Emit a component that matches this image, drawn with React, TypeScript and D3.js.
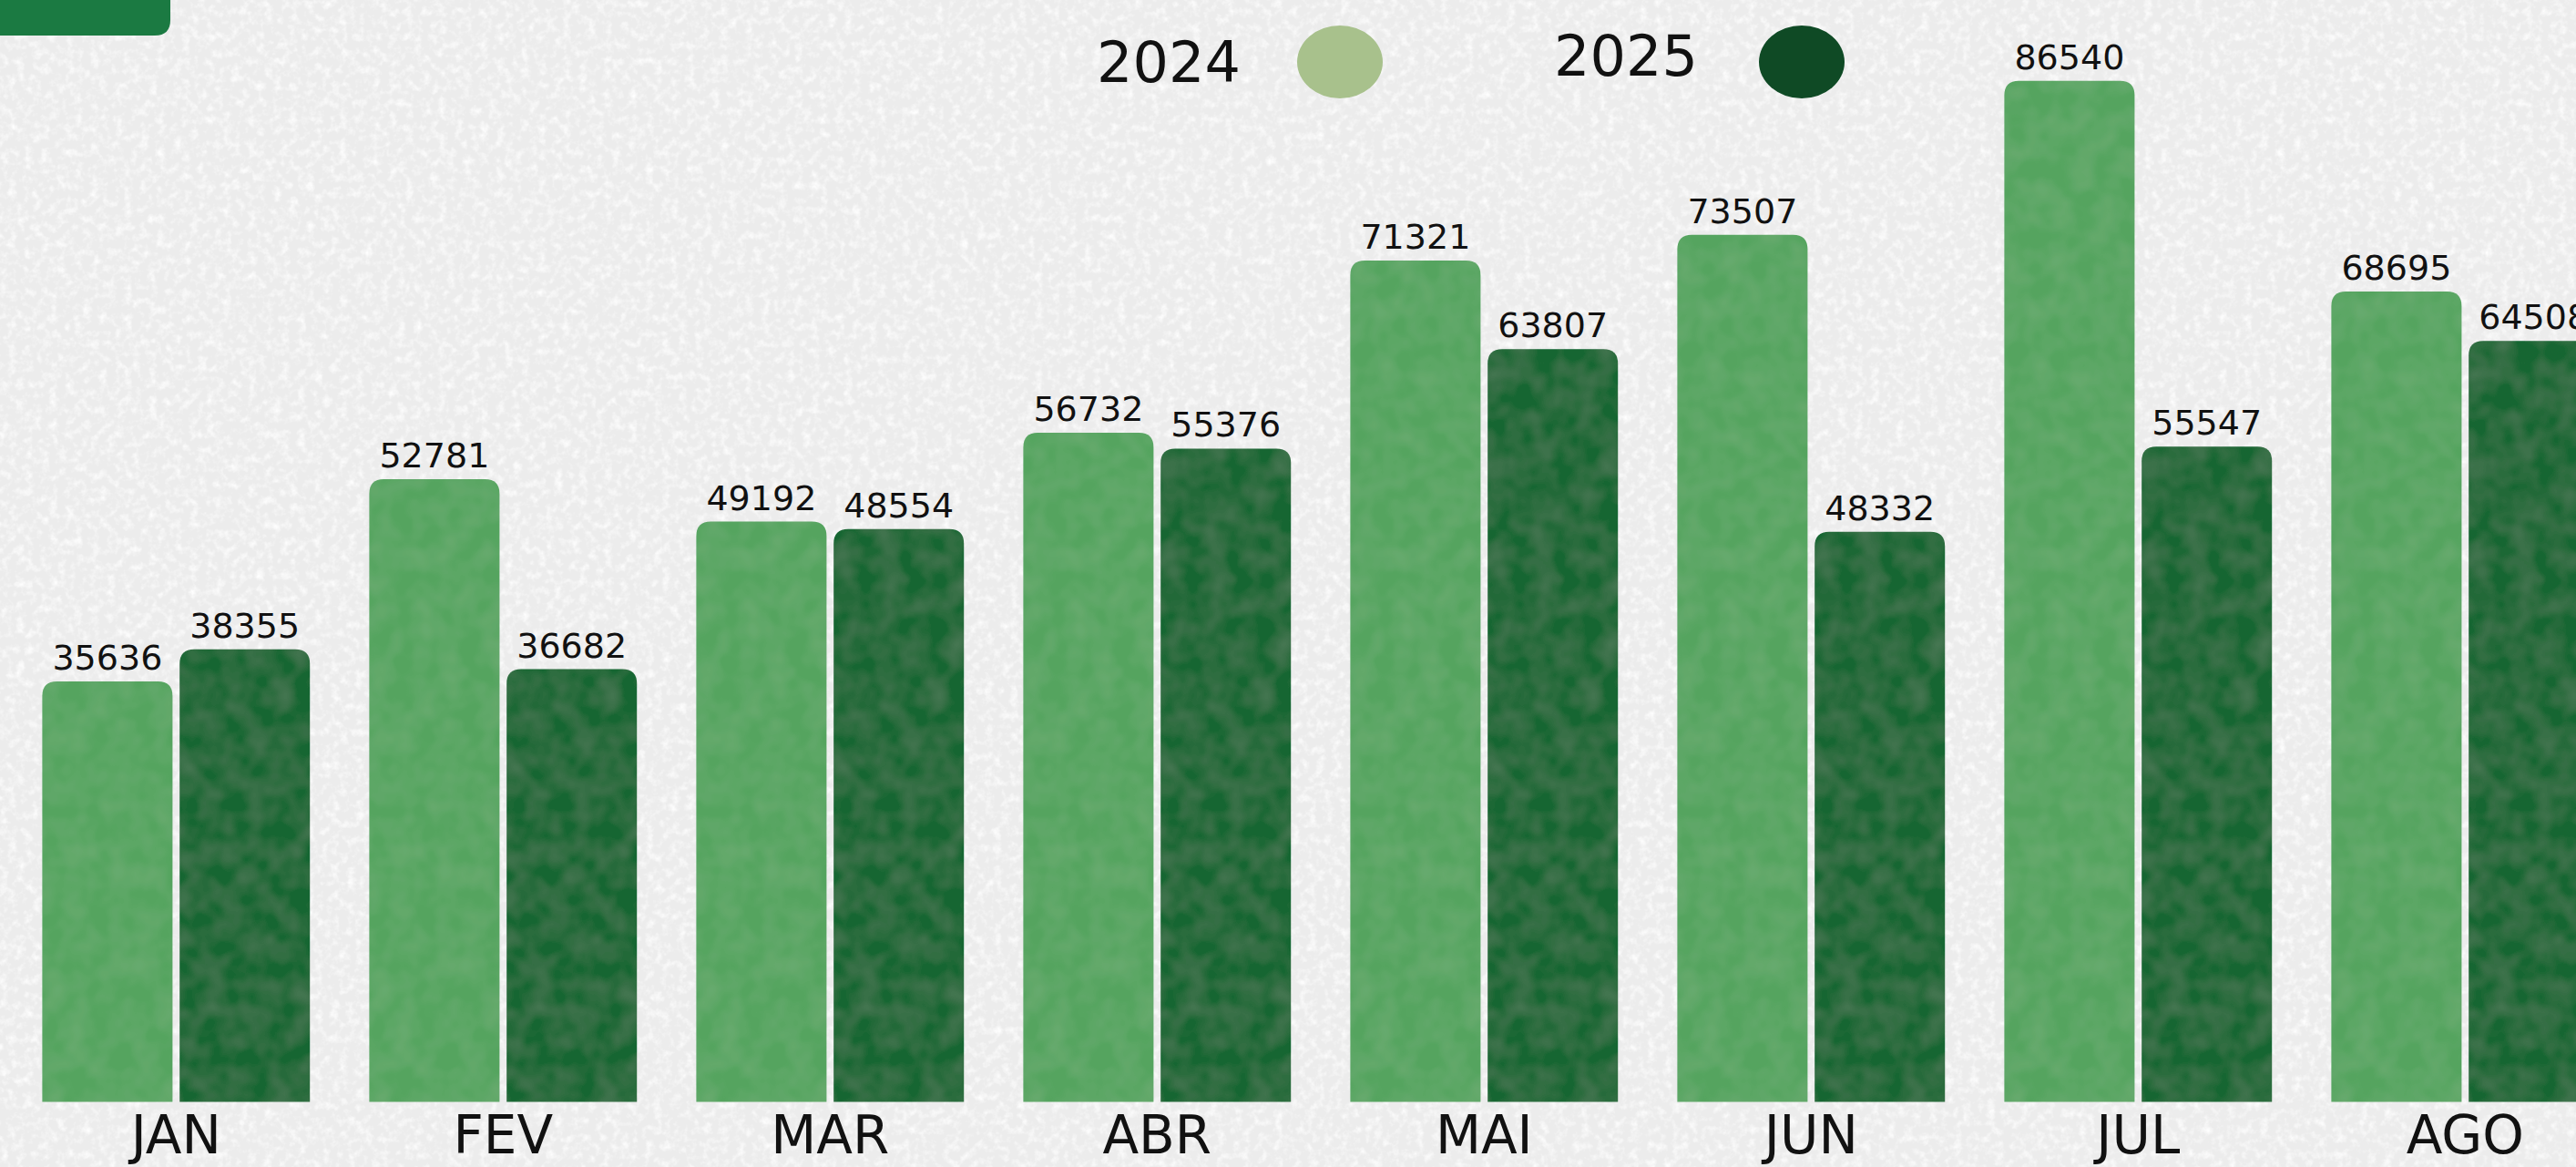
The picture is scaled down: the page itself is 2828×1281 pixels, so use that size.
import React from "react";
import { scaleBand, scaleLinear } from "d3";

const months = ["JAN", "FEV", "MAR", "ABR", "MAI", "JUN", "JUL", "AGO"];
const years = ["2024", "2025"];
const values2024 = [35636, 52781, 49192, 56732, 71321, 73507, 86540, 68695];
const values2025 = [38355, 36682, 48554, 55376, 63807, 48332, 55547, 64508];

const barColors = ["#54a45f", "#166633"];
const legendColors = ["#a8c18c", "#0f4a25"];

// rect with only the top corners rounded
const topRounded = (x: number, y: number, w: number, h: number, r: number) => {
    const rr = Math.min(r, h, w / 2);
    return `M${x},${y + h} V${y + rr} Q${x},${y} ${x + rr},${y} H${x + w - rr} Q${x + w},${y} ${x + w},${y + rr} V${y + h} Z`;
};

const App = () => {
    const width = 2828;
    const height = 1281;
    const baseline = 1209.6;

    const xScale = scaleBand()
        .domain(months)
        .range([46.4, 46.4 + 359 * (months.length - 0.1816)])
        .paddingInner(0.1816)
        .paddingOuter(0);

    const xSub = scaleBand()
        .domain(years)
        .range([0, xScale.bandwidth()])
        .paddingInner(0.0517);

    const yScale = scaleLinear()
        .domain([0, 93400])
        .range([baseline, 0]);

    const series = [values2024, values2025];

    return (
        <svg width={width} height={height}
            style={{ position: "absolute", left: 0, top: 0, display: "block" }}>
            <defs>
                <filter id="paper" x="0" y="0" width="100%" height="100%">
                    <feTurbulence type="fractalNoise" baseFrequency="0.11" numOctaves="3" seed="4" result="t" />
                    <feColorMatrix in="t" type="matrix"
                        values="0 0 0 0 1  0 0 0 0 1  0 0 0 0 1  2.0 0 0 0 -0.9" />
                </filter>
                <filter id="grain" x="0" y="0" width="100%" height="100%">
                    <feTurbulence type="fractalNoise" baseFrequency="0.04" numOctaves="2" seed="9" result="t" />
                    <feColorMatrix in="t" type="matrix"
                        values="0 0 0 0 1  0 0 0 0 1  0 0 0 0 1  0.09 0 0 0 -0.025" result="w" />
                    <feComposite in="w" in2="SourceGraphic" operator="in" result="wc" />
                    <feMerge>
                        <feMergeNode in="SourceGraphic" />
                        <feMergeNode in="wc" />
                    </feMerge>
                </filter>
            </defs>

            {/* background */}
            <rect x={0} y={0} width={width} height={height} fill="#ececec" />
            <rect x={0} y={0} width={width} height={height} fill="#fff" filter="url(#paper)" />

            {/* cut off title box top-left */}
            <path d="M0,0 H187 V22 Q187,39 170,39 H0 Z" fill="#1b7a42" />

            {/* legend */}
            <text x={1283} y={90} fontFamily="DejaVu Sans" fontSize={62} textAnchor="middle" fill="#111">2024</text>
            <ellipse cx={1471} cy={68} rx={47} ry={40} fill={legendColors[0]} />
            <text x={1785} y={83} fontFamily="DejaVu Sans" fontSize={62} textAnchor="middle" fill="#111">2025</text>
            <ellipse cx={1978} cy={68} rx={47} ry={40} fill={legendColors[1]} />

            {/* bars */}
            {months.map((m, i) => (
                <g key={m} transform={`translate(${xScale(m)}, 0)`}>
                    {years.map((yr, j) => {
                        const v = series[j][i];
                        const bx = xSub(yr) as number;
                        const by = yScale(v);
                        return (
                            <g key={yr}>
                                <path d={topRounded(bx, by, xSub.bandwidth(), baseline - by, 16)}
                                    fill={barColors[j]} filter="url(#grain)" />
                                <text x={bx + xSub.bandwidth() / 2} y={by - 13}
                                    fontFamily="DejaVu Sans" fontSize={38} textAnchor="middle" fill="#111">
                                    {v}
                                </text>
                            </g>
                        );
                    })}
                    <text x={xScale.bandwidth() / 2} y={1266}
                        fontFamily="DejaVu Sans" fontSize={58} textAnchor="middle" fill="#111">
                        {m}
                    </text>
                </g>
            ))}
        </svg>
    );
};

export default App;
